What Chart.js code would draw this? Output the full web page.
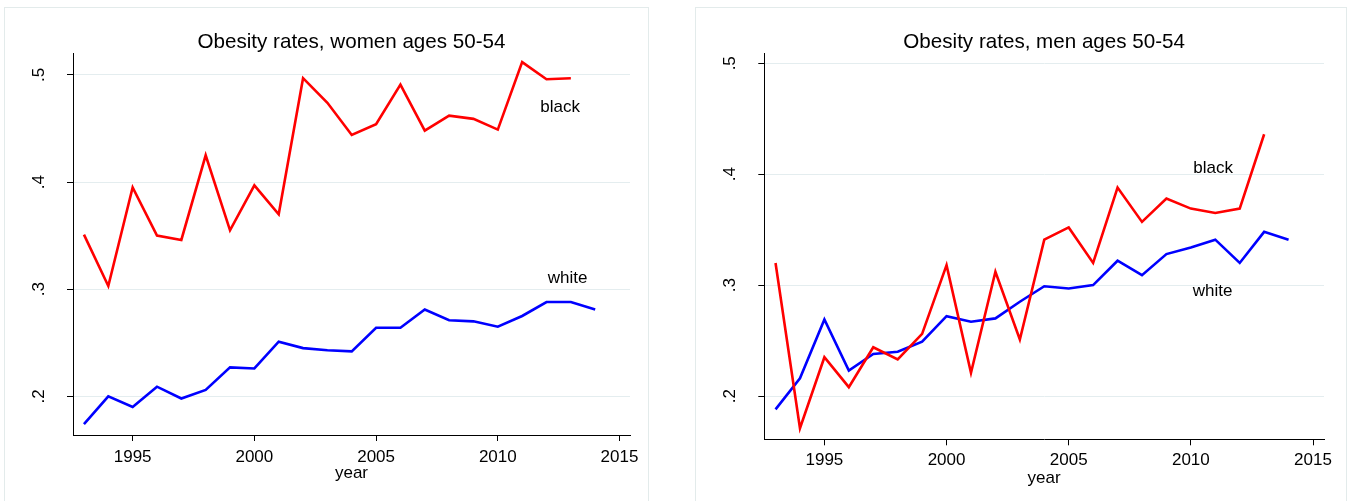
<!DOCTYPE html>
<html>
<head>
<meta charset="utf-8">
<script src="https://cdn.jsdelivr.net/npm/chart.js@4.4.1/dist/chart.umd.min.js"></script>
<style>
html,body{margin:0;padding:0;background:#fff;overflow:hidden;width:1355px;height:501px;}
.panel{position:absolute;border:1px solid #e3ebeb;box-sizing:border-box;}
.holder{position:absolute;top:0;}
</style>
</head>
<body>
<div class="panel" style="left:4px;top:7px;width:645px;height:520px"></div>
<div class="panel" style="left:695px;top:7px;width:652px;height:520px"></div>
<div class="holder" style="left:0px"><canvas id="women" width="677" height="501"></canvas></div>
<div class="holder" style="left:677px"><canvas id="men" width="678" height="501"></canvas></div>
<script>
// ---- data ----
const years = [1993,1994,1995,1996,1997,1998,1999,2000,2001,2002,2003,2004,2005,2006,2007,2008,2009,2010,2011,2012,2013,2014];
// women ages 50-54
const womenBlack = [0.351,0.303,0.395,0.350,0.346,0.425,0.355,0.397,0.370,0.497,0.474,0.444,0.454,0.491,0.448,0.462,0.459,0.449,0.512,0.496,0.497];
const womenWhite = [0.174,0.200,0.190,0.209,0.198,0.206,0.227,0.226,0.251,0.245,0.243,0.242,0.264,0.264,0.281,0.271,0.270,0.265,0.275,0.288,0.288,0.281];
// men ages 50-54
const menBlack = [0.320,0.171,0.235,0.208,0.244,0.233,0.256,0.318,0.221,0.312,0.251,0.341,0.352,0.320,0.388,0.357,0.378,0.369,0.365,0.369,0.436];
const menWhite = [0.188,0.216,0.269,0.223,0.238,0.240,0.249,0.272,0.267,0.270,0.285,0.299,0.297,0.300,0.322,0.309,0.328,0.334,0.341,0.320,0.348,0.341];

const xTicks = [1995,2000,2005,2010,2015];
const yTicks = [0.2,0.3,0.4,0.5];
const yTickLabels = ['.2','.3','.4','.5'];
const titles = ['Obesity rates, women ages 50-54','Obesity rates, men ages 50-54'];
const seriesNames = ['black','white'];
const xAxisTitle = 'year';
// text label anchors (data coordinates: year, rate)
const womenLabelAnchors = [[2012.56,0.4695],[2012.87,0.3104]];
const menLabelAnchors = [[2010.91,0.4053],[2010.89,0.2945]];

// ---- styling ----
const FONT = '"Liberation Sans", Arial, Helvetica, sans-serif';
const RED = '#ff0000', BLUE = '#0000ff';

const textPlugin = {
  id: 'panelText',
  afterDatasetsDraw(chart, args, opts) {
    const {ctx, chartArea, scales} = chart;
    ctx.save();
    ctx.fillStyle = '#000';
    ctx.font = '20.6px ' + FONT;
    ctx.textAlign = 'center';
    ctx.textBaseline = 'alphabetic';
    ctx.fillText(opts.title, (chartArea.left + chartArea.right) / 2, opts.titleY);
    ctx.font = '17px ' + FONT;
    ctx.textBaseline = 'middle';
    opts.labels.forEach((txt, i) => {
      const a = opts.anchors[i];
      ctx.fillText(txt, scales.x.getPixelForValue(a[0]), scales.y.getPixelForValue(a[1]));
    });
    ctx.restore();
  }
};

function series(vals) {
  return vals.map((v, i) => ({x: years[i], y: v}));
}

function makeChart(id, c) {
  return new Chart(document.getElementById(id), {
    type: 'line',
    data: {
      datasets: [
        {label: seriesNames[0], data: series(c.black), borderColor: RED, borderWidth: 2.6, pointRadius: 0, fill: false, tension: 0},
        {label: seriesNames[1], data: series(c.white), borderColor: BLUE, borderWidth: 2.6, pointRadius: 0, fill: false, tension: 0}
      ]
    },
    options: {
      responsive: false,
      animation: false,
      events: [],
      layout: {padding: {left: 0, top: c.top, right: c.padRight, bottom: 0}},
      plugins: {
        legend: {display: false},
        tooltip: {enabled: false},
        title: {display: false},
        panelText: {title: c.title, titleY: 47.8, labels: seriesNames, anchors: c.anchors}
      },
      scales: {
        x: {
          type: 'linear', min: c.xmin, max: c.xmax,
          afterBuildTicks: s => { s.ticks = xTicks.map(v => ({value: v})); },
          afterFit: s => { s.height = c.xh; },
          grid: {drawOnChartArea: false, drawTicks: true, tickLength: 6, tickColor: '#000', lineWidth: 1},
          border: {display: true, color: '#000', width: 1},
          ticks: {color: '#000', font: {family: FONT, size: 17}, padding: c.xpad, maxRotation: 0, minRotation: 0, autoSkip: false,
                  callback: v => String(v)},
          title: {display: true, text: xAxisTitle, color: '#000', font: {family: FONT, size: 17}, padding: {top: 0, bottom: c.titlePad}}
        },
        y: {
          type: 'linear', min: c.ymin, max: c.ymax,
          afterBuildTicks: s => { s.ticks = yTicks.map(v => ({value: v})); },
          afterFit: s => { s.width = c.yw; },
          grid: {color: '#e4edef', drawTicks: true, tickLength: 6, tickColor: '#000', lineWidth: 1},
          border: {display: true, color: '#000', width: 1},
          ticks: {color: '#000', font: {family: FONT, size: 17}, padding: c.ypad, minRotation: 90, maxRotation: 90,
                  crossAlign: 'center', autoSkip: false,
                  callback: v => yTickLabels[yTicks.indexOf(v)]}
        }
      }
    },
    plugins: [textPlugin]
  });
}

makeChart('women', {
  black: womenBlack, white: womenWhite, title: titles[0], anchors: womenLabelAnchors,
  xmin: 1992.55, xmax: 2015.43, ymin: 0.1639, ymax: 0.5205,
  top: 53, padRight: 47, xh: 66, yw: 73, ypad: 20.8, xpad: 6, titlePad: 17
});
makeChart('men', {
  black: menBlack, white: menWhite, title: titles[1], anchors: menLabelAnchors,
  xmin: 1992.54, xmax: 2015.45, ymin: 0.161, ymax: 0.509,
  top: 53.3, padRight: 31, xh: 61.7, yw: 87.3, ypad: 20.4, xpad: 5, titlePad: 12
});
</script>
</body>
</html>
